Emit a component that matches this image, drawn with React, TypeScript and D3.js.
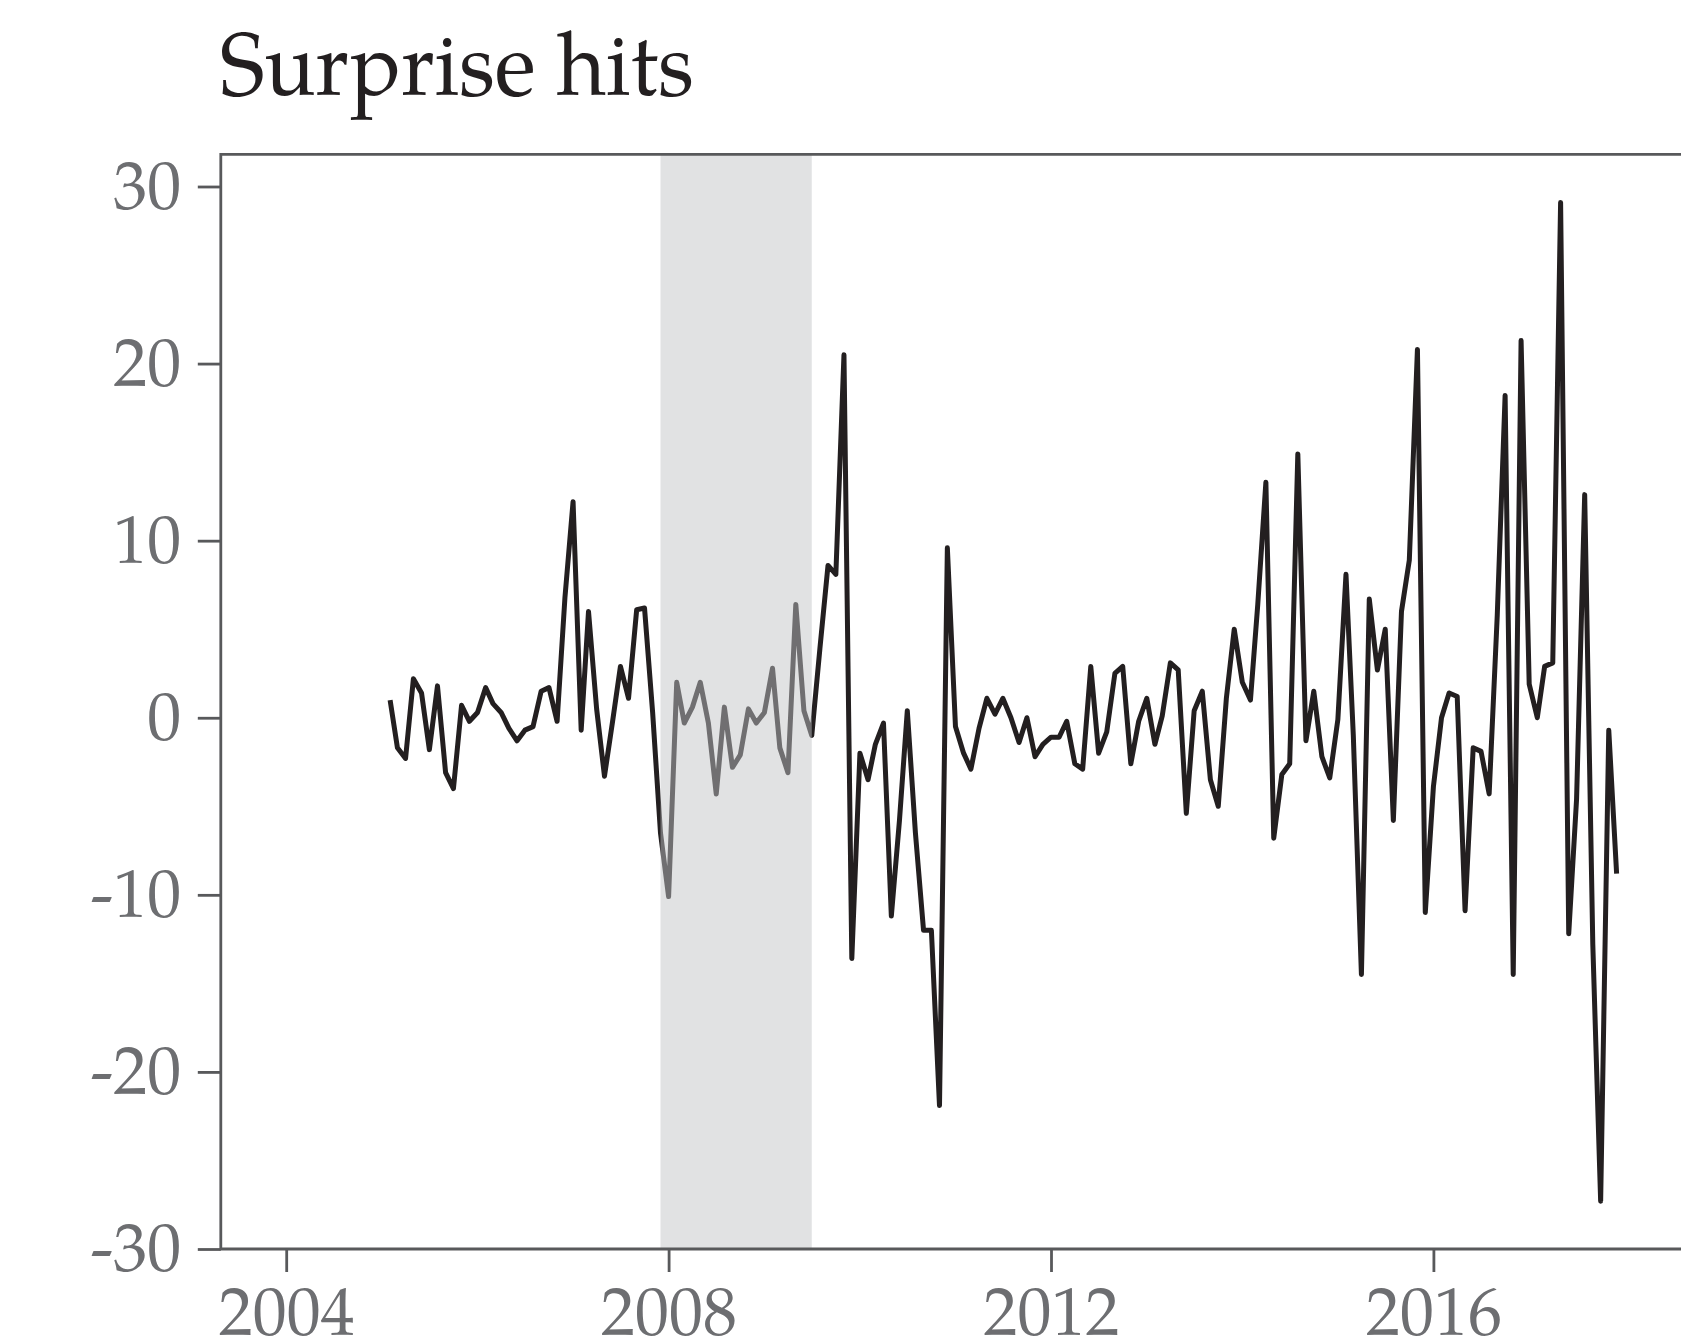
import React, { useEffect, useRef } from 'react';
import * as d3 from 'd3';

// monthly series, Feb 2005 .. Dec 2017
const seriesStart = new Date(2005, 1, 1);
const surpriseHits = [
  // 2005 (from Feb)
  1.0, -1.7, -2.3, 2.2, 1.4, -1.8, 1.8, -3.1, -4.0, 0.7, -0.2,
  // 2006
  0.3, 1.7, 0.8, 0.3, -0.6, -1.3, -0.7, -0.5, 1.5, 1.7, -0.2, 6.8,
  // 2007
  12.2, -0.7, 6.0, 0.5, -3.3, -0.2, 2.9, 1.1, 6.1, 6.2, 0.3, -6.5,
  // 2008
  -10.1, 2.0, -0.3, 0.6, 2.0, -0.3, -4.3, 0.6, -2.8, -2.1, 0.5, -0.3,
  // 2009
  0.3, 2.8, -1.7, -3.1, 6.4, 0.4, -1.0, 3.9, 8.6, 8.1, 20.5, -13.6,
  // 2010
  -2.0, -3.5, -1.5, -0.3, -11.2, -5.8, 0.4, -6.5, -12.0, -12.0, -21.9, 9.6,
  // 2011
  -0.5, -2.0, -2.9, -0.6, 1.1, 0.2, 1.1, 0.0, -1.4, 0.0, -2.2, -1.5,
  // 2012
  -1.1, -1.1, -0.2, -2.6, -2.9, 2.9, -2.0, -0.8, 2.5, 2.9, -2.6, -0.2,
  // 2013
  1.1, -1.5, 0.1, 3.1, 2.7, -5.4, 0.4, 1.5, -3.5, -5.0, 1.1, 5.0,
  // 2014
  2.0, 1.0, 6.4, 13.3, -6.8, -3.2, -2.6, 14.9, -1.3, 1.5, -2.2, -3.4,
  // 2015
  -0.1, 8.1, -1.0, -14.5, 6.7, 2.7, 5.0, -5.8, 6.0, 8.9, 20.8, -11.0,
  // 2016
  -3.9, 0.0, 1.4, 1.2, -10.9, -1.7, -1.9, -4.3, 5.8, 18.2, -14.5, 21.3,
  // 2017
  1.9, 0.0, 2.9, 3.1, 29.1, -12.2, -4.6, 12.6, -12.8, -27.3, -0.7, -8.8,
];
const recession = [new Date(2007, 11, 1), new Date(2009, 6, 1)];
const yTicks = [-30, -20, -10, 0, 10, 20, 30];
const xTickYears = [2004, 2008, 2012, 2016];
const chartTitle = 'Surprise hits';

const W = 1681;
const H = 1342;
const FONT = "'Palatino Linotype', Palatino, 'Book Antiqua', 'TeX Gyre Pagella', 'Liberation Serif', serif";

const App = () => {
  const ref = useRef<SVGSVGElement>(null);

  useEffect(() => {
    const svg = d3.select(ref.current);
    svg.selectAll('*').remove();

    const left = 220.8;
    const top = 154.4;
    const bottom = 1249;
    const right = W + 40; // frame runs off the right edge

    const x = d3.scaleTime()
      .domain([new Date(2004, 0, 1), new Date(2016, 0, 1)])
      .range([286.2, 1433.4]);
    const y = d3.scaleLinear().domain([-30, 30]).range([bottom, 186.5]);

    const points = surpriseHits.map((v, i) => ({
      date: d3.timeMonth.offset(seriesStart, i),
      value: v,
    }));

    const line = d3.line<{ date: Date; value: number }>()
      .x(d => x(d.date))
      .y(d => y(d.value));

    svg.append('path')
      .datum(points)
      .attr('d', line)
      .attr('fill', 'none')
      .attr('stroke', '#231f20')
      .attr('stroke-width', 5)
      .attr('stroke-linejoin', 'round');

    // recession band drawn over the line so it greys it out
    svg.append('rect')
      .attr('x', x(recession[0]))
      .attr('width', x(recession[1]) - x(recession[0]))
      .attr('y', top)
      .attr('height', bottom - top)
      .attr('fill', '#c1c3c5')
      .attr('opacity', 0.49);

    const frame = svg.append('g')
      .attr('stroke', '#58595b')
      .attr('stroke-width', 2.8)
      .attr('fill', 'none');
    frame.append('path').attr('d', `M${right},${top}H${left}V${bottom}H${right}`);

    const fs = 68;

    const xAxis = svg.append('g')
      .attr('transform', `translate(0,${bottom})`)
      .call(
        d3.axisBottom(x)
          .tickValues(xTickYears.map(yr => new Date(yr, 0, 1)))
          .tickFormat(d3.timeFormat('%Y') as any)
          .tickSize(23)
          .tickPadding(14.5)
      );

    const yAxis = svg.append('g')
      .attr('transform', `translate(${left},0)`)
      .call(
        d3.axisLeft(y)
          .tickValues(yTicks)
          .tickFormat(d3.format('d'))
          .tickSize(23)
          .tickPadding(16.6)
      );

    [xAxis, yAxis].forEach(ax => {
      ax.select('.domain').remove();
      ax.selectAll('.tick line').attr('stroke', '#58595b').attr('stroke-width', 2.8);
      ax.selectAll('.tick text')
        .attr('fill', '#6d6e71')
        .style('font-family', FONT)
        .style('font-size', `${fs}px`);
    });
    yAxis.selectAll('.tick text').attr('dy', '0.32em').text(d => String(d));

    svg.append('text')
      .attr('x', 220)
      .attr('y', 95)
      .attr('fill', '#231f20')
      .style('font-family', FONT)
      .style('font-size', '89px')
      .attr('textLength', 474)
      .attr('lengthAdjust', 'spacingAndGlyphs')
      .text(chartTitle);
  }, []);

  return (
    <svg
      ref={ref}
      width={W}
      height={H}
      style={{ position: 'absolute', left: 0, top: 0, background: '#fff' }}
    />
  );
};

export default App;
